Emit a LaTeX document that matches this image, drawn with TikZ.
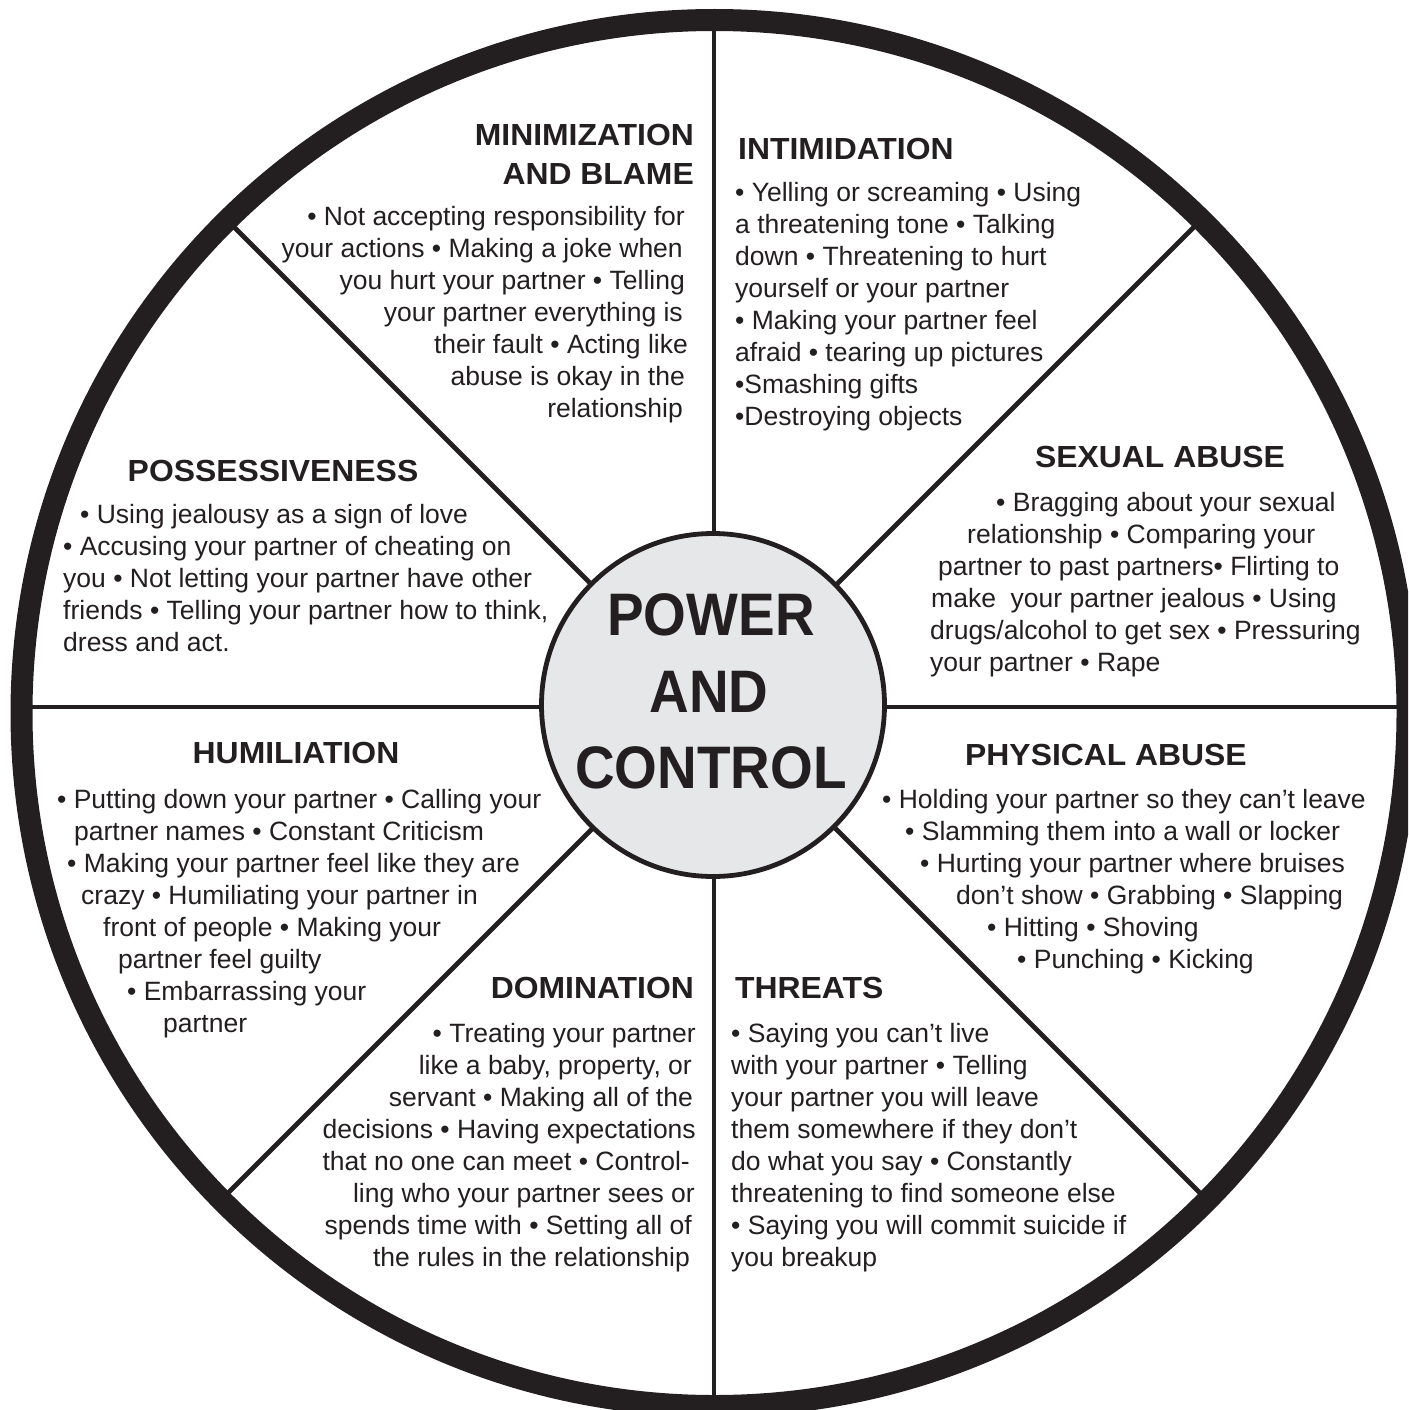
\documentclass[tikz,border=0pt]{standalone}
\usepackage{fontspec}
\setmainfont{Liberation Sans}
\definecolor{ink}{HTML}{231F20}
\definecolor{hubgrey}{HTML}{E6E7E8}
\newcommand{\hdtxt}[1]{\scalebox{1.045}[1]{#1}}
\newcommand{\bigtxt}[1]{\scalebox{0.915}[1]{#1}}
\begin{document}
\begin{tikzpicture}[x=1pt,y=-1pt,
  spoke/.style={draw=ink, line width=4.7pt},
  ring/.style={draw=ink, line width=22pt},
  hub/.style={circle, draw=ink, line width=4.8pt, fill=hubgrey, minimum size=343pt, inner sep=0pt},
  body/.style={font=\fontsize{26.5}{32}\selectfont, text=ink, inner sep=0pt},
  bodyL/.style={body, anchor=base west},
  bodyR/.style={body, anchor=base east},
  head/.style={font=\bfseries\fontsize{30.5}{38}\selectfont, text=ink, inner sep=0pt},
  headL/.style={head, anchor=base west},
  headR/.style={head, anchor=base east},
  headC/.style={head, anchor=base},
  big/.style={font=\bfseries\fontsize{60}{76}\selectfont, text=ink, inner sep=0pt, anchor=base}]
\useasboundingbox (0,0) rectangle (1408,1410);
\clip (0,0) rectangle (1408,1410);
\fill[white] (0,0) rectangle (1408,1410);
\coordinate (c) at (714,707);
\foreach \a in {0,45,...,315} \draw[spoke] (c) -- ++(\a:690);
\draw[ring] (714.5,713) circle[radius=693pt];
\node[hub] (hub) at (713,705) {};
\node[big] (pw1) at (711,635) {\bigtxt{POWER}};
\node[big] (pw2) at (709,712) {\bigtxt{AND}};
\node[big] (pw3) at (711,788) {\bigtxt{CONTROL}};
% Minimization and blame
\node[headR] (mh1) at (694,146) {\hdtxt{MINIMIZATION}};
\node[headR] (mh2) at (694,184) {\hdtxt{AND BLAME}};
\node[bodyR] (mb1) at (685,225) {• Not accepting responsibility for};
\node[bodyR] (mb2) at (683,257) {your actions • Making a joke when};
\node[bodyR] (mb3) at (685,289) {you hurt your partner • Telling};
\node[bodyR] (mb4) at (683,321) {your partner everything is};
\node[bodyR] (mb5) at (688,353) {their fault • Acting like};
\node[bodyR] (mb6) at (685,385) {abuse is okay in the};
\node[bodyR] (mb7) at (683,417) {relationship};
% Intimidation
\node[headL] (ih) at (738,159) {\hdtxt{INTIMIDATION}};
\node[bodyL] (ib1) at (735,201) {• Yelling or screaming • Using};
\node[bodyL] (ib2) at (735,233) {a threatening tone • Talking};
\node[bodyL] (ib3) at (735,265) {down • Threatening to hurt};
\node[bodyL] (ib4) at (735,297) {yourself or your partner};
\node[bodyL] (ib5) at (735,329) {• Making your partner feel};
\node[bodyL] (ib6) at (735,361) {afraid • tearing up pictures};
\node[bodyL] (ib7) at (735,393) {•Smashing gifts};
\node[bodyL] (ib8) at (735,425) {•Destroying objects};
% Sexual abuse
\node[headC] (sh) at (1160,467) {\hdtxt{SEXUAL ABUSE}};
\node[bodyL] (sb1) at (996,511) {• Bragging about your sexual};
\node[bodyL] (sb2) at (967,543) {relationship • Comparing your};
\node[bodyL] (sb3) at (938,575) {partner to past partners• Flirting to};
\node[bodyL] (sb4) at (931,607) {make\ \ your partner jealous • Using};
\node[bodyL] (sb5) at (930,639) {drugs/alcohol to get sex • Pressuring};
\node[bodyL] (sb6) at (930,671) {your partner • Rape};
% Possessiveness
\node[headC] (ph) at (273,481) {\hdtxt{POSSESSIVENESS}};
\node[bodyL] (pb1) at (80,523) {• Using jealousy as a sign of love};
\node[bodyL] (pb2) at (63,555) {• Accusing your partner of cheating on};
\node[bodyL] (pb3) at (63,587) {you • Not letting your partner have other};
\node[bodyL] (pb4) at (63,619) {friends • Telling your partner how to think,};
\node[bodyL] (pb5) at (63,651) {dress and act.};
% Humiliation
\node[headC] (hh) at (296,763) {\hdtxt{HUMILIATION}};
\node[bodyL] (hb1) at (57,808) {• Putting down your partner • Calling your};
\node[bodyL] (hb2) at (74,840) {partner names • Constant Criticism};
\node[bodyL] (hb3) at (67,872) {• Making your partner feel like they are};
\node[bodyL] (hb4) at (81,904) {crazy • Humiliating your partner in};
\node[bodyL] (hb5) at (103,936) {front of people • Making your};
\node[bodyL] (hb6) at (118,968) {partner feel guilty};
\node[bodyL] (hb7) at (127,1000) {• Embarrassing your};
\node[bodyL] (hb8) at (163,1032) {partner};
% Physical abuse
\node[headC] (yh) at (1106,765) {\hdtxt{PHYSICAL ABUSE}};
\node[bodyL] (yb1) at (882,808) {• Holding your partner so they can’t leave};
\node[bodyL] (yb2) at (905,840) {• Slamming them into a wall or locker};
\node[bodyL] (yb3) at (920,872) {• Hurting your partner where bruises};
\node[bodyL] (yb4) at (956,904) {don’t show • Grabbing • Slapping};
\node[bodyL] (yb5) at (987,936) {• Hitting • Shoving};
\node[bodyL] (yb6) at (1017,968) {• Punching • Kicking};
% Domination
\node[headR] (dh) at (694,998) {\hdtxt{DOMINATION}};
\node[bodyR] (db1) at (696,1042) {• Treating your partner};
\node[bodyR] (db2) at (692,1074) {like a baby, property, or};
\node[bodyR] (db3) at (693,1106) {servant • Making all of the};
\node[bodyR] (db4) at (696,1138) {decisions • Having expectations};
\node[bodyR] (db5) at (690,1170) {that no one can meet • Control-};
\node[bodyR] (db6) at (695,1202) {ling who your partner sees or};
\node[bodyR] (db7) at (692,1234) {spends time with • Setting all of};
\node[bodyR] (db8) at (690,1266) {the rules in the relationship};
% Threats
\node[headL] (th) at (735,998) {\hdtxt{THREATS}};
\node[bodyL] (tb1) at (731,1042) {• Saying you can’t live};
\node[bodyL] (tb2) at (731,1074) {with your partner • Telling};
\node[bodyL] (tb3) at (731,1106) {your partner you will leave};
\node[bodyL] (tb4) at (731,1138) {them somewhere if they don’t};
\node[bodyL] (tb5) at (731,1170) {do what you say • Constantly};
\node[bodyL] (tb6) at (731,1202) {threatening to find someone else};
\node[bodyL] (tb7) at (731,1234) {• Saying you will commit suicide if};
\node[bodyL] (tb8) at (731,1266) {you breakup};
\end{tikzpicture}
\end{document}
